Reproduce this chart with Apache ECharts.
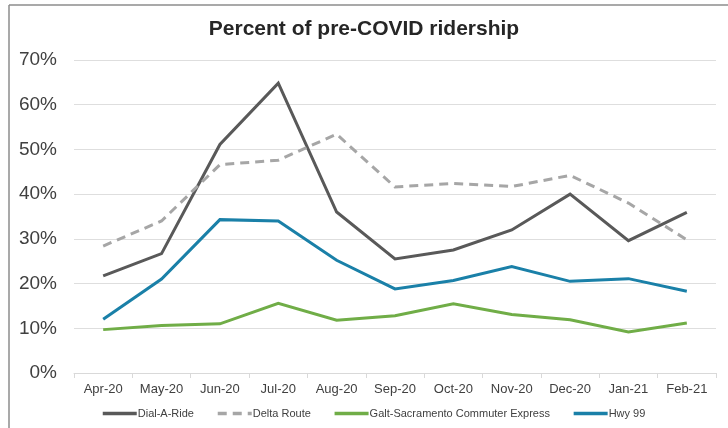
<!DOCTYPE html>
<html>
<head>
<meta charset="utf-8">
<script src="https://cdn.jsdelivr.net/npm/echarts@6/dist/echarts.min.js"></script>
<style>
  html, body { margin: 0; padding: 0; background: #fff; }
  #chart { width: 728px; height: 428px; }
</style>
</head>
<body>
<div id="chart"></div>
<script>
// Monthly ridership as percent of pre-COVID levels
const months = ['Apr-20', 'May-20', 'Jun-20', 'Jul-20', 'Aug-20', 'Sep-20', 'Oct-20', 'Nov-20', 'Dec-20', 'Jan-21', 'Feb-21'];
const dialARide = [21.7, 26.7, 51.1, 64.8, 36.0, 25.5, 27.5, 32.0, 40.0, 29.6, 35.9];
const deltaRoute = [28.4, 34.0, 46.6, 47.6, 53.4, 41.6, 42.4, 41.7, 44.2, 38.0, 29.8];
const galtSacramento = [9.7, 10.6, 11.0, 15.6, 11.8, 12.8, 15.5, 13.1, 11.9, 9.2, 11.2];
const hwy99 = [12.0, 21.0, 34.3, 34.0, 25.2, 18.8, 20.7, 23.8, 20.5, 21.1, 18.3];
const yTicks = [0, 10, 20, 30, 40, 50, 60, 70];

const chart = echarts.init(document.getElementById('chart'), null, { renderer: 'canvas' });
const font = '"Liberation Sans", Arial, sans-serif';

function lineSeries(name, data, color, type) {
  return {
    name: name,
    type: 'line',
    data: data,
    symbol: 'none',
    smooth: false,
    lineStyle: { color: color, width: 3, type: type || 'solid', cap: 'butt', join: 'miter' },
    itemStyle: { color: color },
    emphasis: { disabled: true }
  };
}

chart.setOption({
  animation: false,
  backgroundColor: '#fff',
  title: {
    text: 'Percent of pre-COVID ridership',
    left: 'center',
    top: 14,
    textStyle: { fontFamily: font, fontSize: 21, fontWeight: 'bold', color: '#262626' }
  },
  graphic: [
    { type: 'line', shape: { x1: 9, y1: 5, x2: 728, y2: 5 }, style: { stroke: '#8c8c8c', lineWidth: 1.5 } },
    { type: 'line', shape: { x1: 9, y1: 5, x2: 9, y2: 428 }, style: { stroke: '#8c8c8c', lineWidth: 1.5 } }
  ],
  grid: { left: 74, right: 12, top: 60, bottom: 55, containLabel: false },
  legend: {
    bottom: 4,
    left: 96,
    itemWidth: 34,
    itemHeight: 4,
    itemGap: 22,
    itemStyle: { opacity: 0 },
    lineStyle: { width: 3.5 },
    textStyle: { fontFamily: font, fontSize: 11, color: '#404040', padding: [0, 0, 0, -4] },
    data: ['Dial-A-Ride', 'Delta Route', 'Galt-Sacramento Commuter Express', 'Hwy 99']
  },
  xAxis: {
    type: 'category',
    data: months,
    boundaryGap: true,
    axisLine: { lineStyle: { color: '#d9d9d9', width: 1 } },
    axisTick: { show: true, length: 5, lineStyle: { color: '#d9d9d9' } },
    axisLabel: { interval: 0, fontFamily: font, fontSize: 13, color: '#404040', margin: 10 }
  },
  yAxis: {
    type: 'value',
    min: yTicks[0],
    max: yTicks[yTicks.length - 1],
    interval: 10,
    axisLine: { show: false },
    axisTick: { show: false },
    splitLine: { lineStyle: { color: '#dedede', width: 1 } },
    axisLabel: { fontFamily: font, fontSize: 19, color: '#404040', margin: 17, formatter: '{value}%' }
  },
  series: [
    lineSeries('Dial-A-Ride', dialARide, '#595959'),
    lineSeries('Delta Route', deltaRoute, '#a6a6a6', [9, 6]),
    lineSeries('Galt-Sacramento Commuter Express', galtSacramento, '#70ad47'),
    lineSeries('Hwy 99', hwy99, '#1a80a8')
  ]
});
</script>
</body>
</html>
